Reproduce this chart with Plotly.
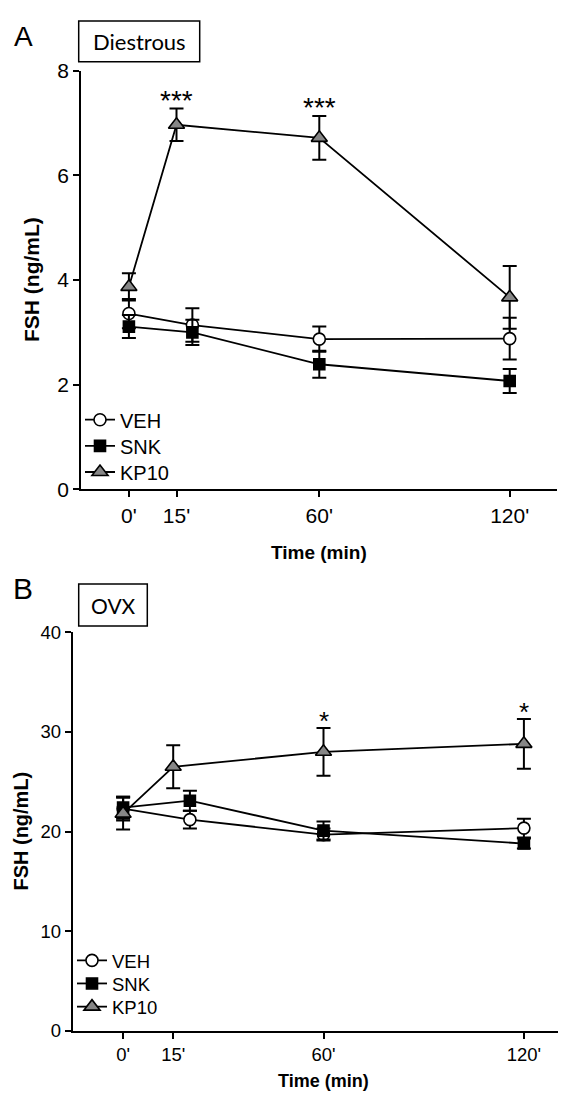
import plotly.graph_objects as go

W, H = 566, 1095

# ---------------- data ----------------
groups = ["VEH", "SNK", "KP10"]
time_ticks = [0, 15, 60, 120]
time_labels = ["0'", "15'", "60'", "120'"]
time_ctrl = [0, 20, 60, 120]    # VEH / SNK points (drawn slightly right of 15')
time_kp10 = [0, 15, 60, 120]

# Panel A - Diestrous, FSH (ng/mL)
a_veh = [3.36, 3.14, 2.87, 2.88]
a_veh_sem = [0.28, 0.32, 0.24, 0.40]
a_snk = [3.11, 3.00, 2.39, 2.07]
a_snk_sem = [0.22, 0.24, 0.26, 0.23]
a_kp10 = [3.87, 6.97, 6.72, 3.67]
a_kp10_sem = [0.26, 0.31, 0.42, 0.60]
a_sig = ["", "***", "***", ""]
a_yticks = [0, 2, 4, 6, 8]

# Panel B - OVX, FSH (ng/mL)
b_veh = [22.3, 21.2, 19.7, 20.35]
b_veh_sem = [1.2, 0.9, 0.6, 0.95]
b_snk = [22.4, 23.1, 20.1, 18.8]
b_snk_sem = [1.1, 1.0, 0.9, 0.5]
b_kp10 = [21.8, 26.5, 28.0, 28.8]
b_kp10_sem = [1.6, 2.15, 2.4, 2.5]
b_sig = ["", "", "*", "*"]
b_yticks = [0, 10, 20, 30, 40]

# ---------------- helpers ----------------
def px(x):
    return x / W

def py(y):
    return 1 - y / H

ARIAL = "Liberation Sans, Arial, sans-serif"
CAL = "Lato, Carlito, Calibri, sans-serif"

styles = {
    "VEH": dict(symbol="circle", color="white", size=12),
    "SNK": dict(symbol="square", color="black", size=11),
    "KP10": dict(symbol="triangle-up", color="#868686", size=14),
}

fig = go.Figure()

def add_panel(xa, ya, legs, series):
    for (name, t, m, s), leg in zip(series, legs):
        st = styles[name]
        fig.add_trace(go.Scatter(
            x=t, y=m, name=name, mode="lines+markers",
            xaxis=xa, yaxis=ya, legend=leg,
            line=dict(color="black", width=1.8),
            marker=dict(symbol=st["symbol"], color=st["color"], size=st["size"],
                        line=dict(color="black", width=1.6)),
            error_y=dict(type="data", array=s, visible=True, color="black",
                         thickness=2, width=7),
            hoverinfo="skip",
        ))

add_panel("x", "y", ["legend", "legend2", "legend3"], [
    ("VEH", time_ctrl, a_veh, a_veh_sem),
    ("SNK", time_ctrl, a_snk, a_snk_sem),
    ("KP10", time_kp10, a_kp10, a_kp10_sem),
])
add_panel("x2", "y2", ["legend4", "legend5", "legend6"], [
    ("VEH", time_ctrl, b_veh, b_veh_sem),
    ("SNK", time_ctrl, b_snk, b_snk_sem),
    ("KP10", time_kp10, b_kp10, b_kp10_sem),
])

annotations = []
for t, m, s, lab in zip(time_kp10, a_kp10, a_kp10_sem, a_sig):
    if lab:
        annotations.append(dict(x=t, y=m + s, xref="x", yref="y", text=lab,
                                showarrow=False, yanchor="bottom", yshift=-9,
                                font=dict(family=ARIAL, size=28, color="black")))
for t, m, s, lab in zip(time_kp10, b_kp10, b_kp10_sem, b_sig):
    if lab:
        annotations.append(dict(x=t, y=m + s, xref="x2", yref="y2", text=lab,
                                showarrow=False, yanchor="bottom", yshift=-10,
                                font=dict(family=ARIAL, size=26, color="black")))

def ptext(x, y, text, size, family=ARIAL, angle=0):
    annotations.append(dict(x=px(x), y=py(y), xref="paper", yref="paper",
                            text=text, showarrow=False, textangle=angle,
                            xanchor="center", yanchor="middle",
                            font=dict(family=family, size=size, color="black")))

ptext(15, 17, "A", 28)
ptext(15, 581, "B", 30)
ptext(131, 22, "Diestrous", 22, CAL)
ptext(105, 598, "OVX", 21, CAL)
ptext(311, 544, "<b>Time (min)</b>", 19)
ptext(315.5, 1084, "<b>Time (min)</b>", 18)
ptext(23, 265.6, "<b>FSH (ng/mL)</b>", 21, angle=-90)
ptext(13, 829, "<b>FSH (ng/mL)</b>", 20, angle=-90)

shapes = [
    dict(type="rect", xref="paper", yref="paper", x0=px(70.7), x1=px(191.7),
         y0=py(42.7), y1=py(1), line=dict(color="black", width=1.5)),
    dict(type="rect", xref="paper", yref="paper", x0=px(70.7), x1=px(139.3),
         y0=py(619), y1=py(576), line=dict(color="black", width=1.5)),
]

def xaxis_style(domain, anchor, fs):
    return dict(domain=domain, anchor=anchor, range=[-15, 135],
                tickmode="array", tickvals=time_ticks, ticktext=time_labels,
                showline=True, linecolor="black", linewidth=2.4,
                ticks="outside", ticklen=6, tickwidth=2, tickcolor="black",
                showgrid=False, zeroline=False,
                tickfont=dict(family=ARIAL, size=fs, color="black"))

def yaxis_style(domain, anchor, rng, tv, fs):
    return dict(domain=domain, anchor=anchor, range=rng,
                tickmode="array", tickvals=tv,
                showline=True, linecolor="black", linewidth=2.4,
                ticks="outside", ticklen=6, tickwidth=2, tickcolor="black",
                showgrid=False, zeroline=False,
                tickfont=dict(family=ARIAL, size=fs, color="black"))

def legend_at(x, y, fs):
    return dict(x=px(x), y=py(y), xanchor="left", yanchor="middle",
                bgcolor="rgba(0,0,0,0)", borderwidth=0,
                font=dict(family=ARIAL, size=fs, color="black"),
                itemsizing="trace")

fig.update_layout(
    width=W, height=H,
    margin=dict(l=0, r=0, t=0, b=0),
    paper_bgcolor="white", plot_bgcolor="white",
    showlegend=True,
    xaxis=xaxis_style([px(73.3), px(549.3)], "y", 21),
    yaxis=yaxis_style([py(479.3), py(52)], "x", [0, 8], a_yticks, 21),
    xaxis2=xaxis_style([px(65), 1.0], "y2", 18.5),
    yaxis2=yaxis_style([py(1032.7), py(625.3)], "x2", [0, 40], b_yticks, 18.5),
    legend=legend_at(72, 408.3, 20),
    legend2=legend_at(72, 435.0, 20),
    legend3=legend_at(72, 461.7, 20),
    legend4=legend_at(64, 961.0, 18.5),
    legend5=legend_at(64, 984.6, 18.5),
    legend6=legend_at(64, 1008.3, 18.5),
    annotations=annotations,
    shapes=shapes,
)

fig.write_html("out.html", config={"displayModeBar": False})
